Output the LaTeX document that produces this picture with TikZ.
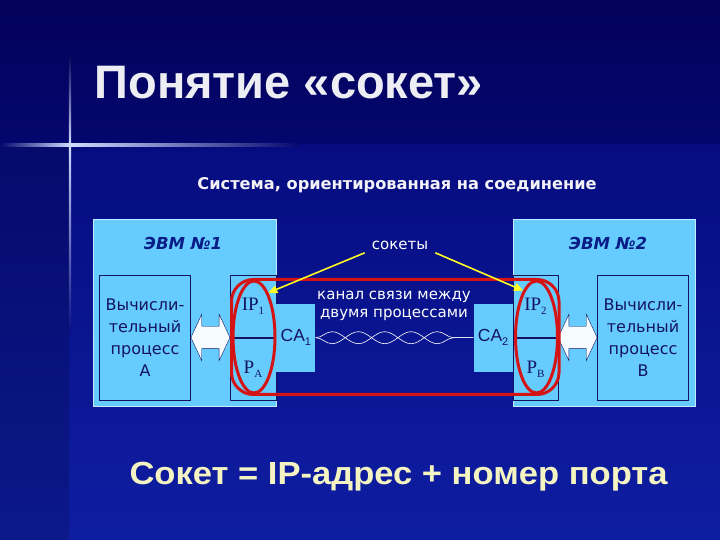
\documentclass[tikz,border=0pt]{standalone}
\usepackage{fontspec}
\setmainfont{DejaVu Sans}
\newfontfamily\headfont{Liberation Sans}
\newfontfamily\wideheadfont[FakeStretch=1.08]{Liberation Sans}
\newfontfamily\ipfont{Liberation Serif}
\usepackage{tikz}
\usetikzlibrary{positioning,fit,arrows.meta,shapes.geometric,shapes.arrows,decorations.pathmorphing}
\tikzset{>={Triangle[width=8pt,length=9pt]}}
\definecolor{bgtop}{HTML}{02025A}
\definecolor{bgupper}{HTML}{05066E}
\definecolor{bgmid}{HTML}{060C80}
\definecolor{bgbot}{HTML}{0E1EA2}
\definecolor{glow}{HTML}{D0DCFF}
\definecolor{hostblue}{HTML}{66CCFF}
\definecolor{inkblue}{HTML}{14145E}
\definecolor{titleblue}{HTML}{0A1C86}
\definecolor{ringred}{HTML}{D41414}
\definecolor{ptryellow}{HTML}{FFFF22}
\definecolor{formulacol}{HTML}{F4F4C2}
\tikzstyle{host} = [draw=white!60!hostblue, fill=hostblue, rectangle, minimum height=187pt, inner sep=0pt]
\tikzstyle{hosttitle} = [text=titleblue, font=\bfseries\itshape\fontsize{16.5}{18}\selectfont]
\tikzstyle{proc} = [draw=inkblue, fill=hostblue, rectangle, align=center, minimum width=91pt, minimum height=125pt, inner sep=0pt, text=inkblue, font=\fontsize{16}{22}\selectfont]
\tikzstyle{half} = [draw=inkblue, fill=hostblue, rectangle, minimum width=46pt, minimum height=62.5pt, inner sep=0pt, text=inkblue, font=\ipfont\fontsize{19}{20}\selectfont]
\tikzstyle{cabox} = [fill=hostblue, rectangle, minimum width=39pt, minimum height=68pt, inner sep=0pt, text=inkblue, font=\headfont\fontsize{17.5}{18}\selectfont]
\tikzstyle{ring} = [draw=ringred, line width=3pt, ellipse, minimum width=42pt, minimum height=112pt, inner sep=0pt]
\tikzstyle{pipe} = [draw=ringred, line width=3pt, rectangle, rounded corners=22pt, inner sep=0pt]
\tikzstyle{link} = [draw=inkblue, fill=white!94!hostblue, double arrow, double arrow head extend=12pt, double arrow tip angle=130, inner xsep=0pt, inner ysep=11pt, minimum height=39pt]
\tikzstyle{note} = [text=white, align=center, font=\fontsize{15}{18}\selectfont]
\tikzstyle{pointer} = [->, draw=ptryellow, fill=ptryellow, line width=1.6pt]
\tikzstyle{wave} = [draw=white, line width=0.6pt, decorate, decoration={snake, amplitude=6pt, segment length=52.67pt}]
\newcommand{\lowidx}[1]{\raisebox{-0.4ex}{\fontsize{11}{11}\selectfont #1}}

\begin{document}
\begin{tikzpicture}[x=1pt, y=1pt]

    % background of the slide
    \useasboundingbox (0,0) rectangle (720,540);
    \shade[top color=bgtop, bottom color=bgupper] (0,395) rectangle (720,540);
    \shade[top color=bgmid, bottom color=bgbot] (0,0) rectangle (720,395);
    \fill[black, opacity=0.15] (0,0) rectangle (69,393);
    \shade[left color=bgupper, right color=glow] (0,393.8) rectangle (70,396.2);
    \shade[left color=glow, right color=bgupper] (70,393.8) rectangle (300,396.2);
    \shade[top color=bgtop, bottom color=glow] (68.8,395) rectangle (71.2,485);
    \shade[top color=glow, bottom color=bgmid] (68.8,205) rectangle (71.2,395);

    \node[anchor=base west, text=white!93!bgtop, font=\headfont\bfseries\fontsize{47}{50}\selectfont] (title) at (91,441) {Понятие «сокет»};
    \node[anchor=base, text=white!95!bgtop, font=\bfseries\fontsize{16.2}{18}\selectfont] (subtitle) at (397,350) {Система, ориентированная на соединение};

    % the two computers
    \node[host, minimum width=183pt] (evmA) at (184.5,227.5) {};
    \node[host, minimum width=182pt] (evmB) at (604,227.5) {};
    \node[hosttitle] (evmAtitle) at (183,297) {ЭВМ №1};
    \node[hosttitle] (evmBtitle) at (608,297) {ЭВМ №2};

    \node[proc] (procA) at (145,202.5) {Вычисли-\\тельный\\процесс\\A};
    \node[proc] (procB) at (643,202.5) {Вычисли-\\тельный\\процесс\\B};

    \node[half] (ipA) at (253,233.75) {IP\lowidx{1}};
    \node[half, below=0pt of ipA] (pA) {P\lowidx{A}};
    \node[half, minimum width=45pt] (ipB) at (535.5,233.75) {IP\lowidx{2}};
    \node[half, minimum width=45pt, below=0pt of ipB] (pB) {P\lowidx{B}};

    \node[cabox, anchor=west] (caA) at (ipA.south east) {CA\lowidx{1}};
    \node[cabox, anchor=east] (caB) at (ipB.south west) {CA\lowidx{2}};

    \node[link, right=0pt of procA] (linkA) {};
    \node[link, left=0pt of procB] (linkB) {};

    % channel between the processes
    \draw[wave] (caA) -- (caB);
    \draw[wave, decoration={mirror}] (caA) -- (caB);
    \node[note] (chantext) at (394,234) {канал связи между\\двумя процессами};

    % sockets
    \node[ring] (ringA) at (254,203) {};
    \node[ring] (ringB) at (536.5,203) {};
    \node[pipe, fit=(ringA)(ringB)] (chan) {};

    \node[note, inner xsep=7pt] (sockets) at (400,295) {сокеты};
    \draw[pointer] (sockets.south west) -- (ringA.72);
    \draw[pointer] (sockets.south east) -- (ringB.106);

    \node[anchor=base west, text=formulacol, font=\wideheadfont\bfseries\fontsize{32}{36}\selectfont] (formula) at (126,55) {Сокет = IP-адрес + номер порта};

\end{tikzpicture}
\end{document}
